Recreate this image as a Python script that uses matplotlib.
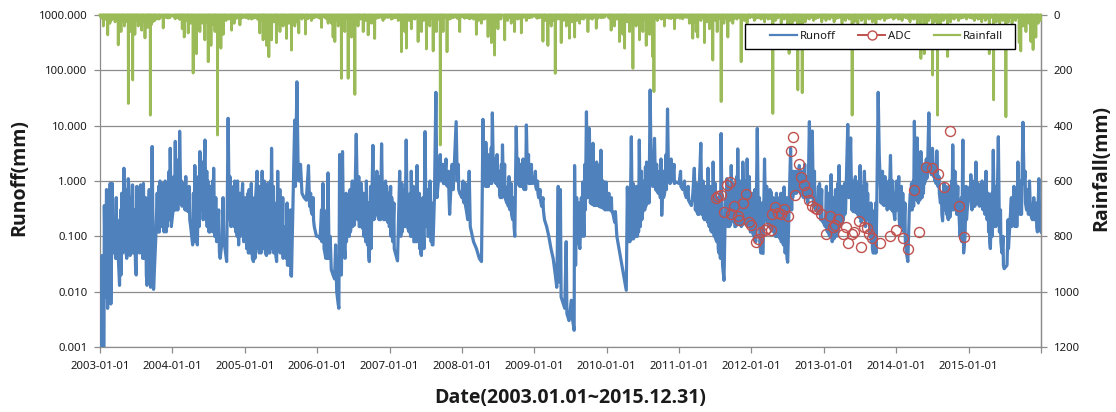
import matplotlib
matplotlib.use('Agg')
import matplotlib.pyplot as plt
import matplotlib.patches as mpatches
import numpy as np
import pandas as pd
from matplotlib.lines import Line2D
from matplotlib.ticker import FixedLocator, FuncFormatter, NullLocator

# ---------------- data ----------------
# Runoff (mm): (decimal year, value)
runoff_2003 = [(2003.000,0.001),(2003.020,0.001),(2003.030,0.045),(2003.040,0.001),(2003.055,0.001),(2003.060,0.36),
    (2003.075,0.008),(2003.090,0.7),(2003.105,0.005),(2003.140,0.9),(2003.150,0.006),(2003.170,0.9),(2003.180,0.05),
    (2003.200,0.15),(2003.215,0.04),(2003.235,0.2),(2003.250,0.05),(2003.270,0.013),(2003.300,0.6),(2003.315,0.05),
    (2003.330,1.7),(2003.345,0.06),(2003.370,0.04),(2003.390,1.1),(2003.400,0.8),(2003.415,0.045),(2003.450,0.85),
    (2003.465,0.05),(2003.500,0.02),(2003.510,0.8),(2003.525,0.06),(2003.560,0.85),(2003.575,0.05),(2003.600,0.9),
    (2003.615,0.04),(2003.650,0.013),(2003.680,0.7),(2003.690,0.03),(2003.700,0.012),(2003.720,4.2),(2003.740,0.011),
    (2003.770,0.09),(2003.790,0.6),(2003.805,0.12),(2003.830,1.0),(2003.845,0.15),(2003.870,0.9),(2003.885,0.12),
    (2003.900,1.0),(2003.915,0.12),(2003.940,0.3),(2003.970,3.9),(2003.985,0.15),
    (2003.120,0.4),(2003.128,0.01),(2003.225,0.5),(2003.230,0.04),(2003.285,0.3),(2003.290,0.02),(2003.355,0.7),
    (2003.360,0.05),(2003.430,0.5),(2003.440,0.05),(2003.480,0.3),(2003.490,0.03),(2003.535,0.5),(2003.545,0.05),
    (2003.585,0.6),(2003.590,0.04),(2003.630,0.5),(2003.640,0.02),(2003.810,0.8),(2003.820,0.12),(2003.925,0.9),
    (2003.930,0.15),(2003.955,1.5),(2003.962,0.2)]
runoff_2004 = [(2004.010,0.3),(2004.040,5.2),(2004.050,0.3),(2004.060,2.4),(2004.075,0.3),(2004.100,7.9),(2004.115,0.6),
    (2004.140,0.4),(2004.160,0.9),(2004.175,0.3),(2004.200,0.6),(2004.215,0.28),(2004.250,0.16),(2004.280,0.07),
    (2004.310,1.9),(2004.325,0.1),(2004.345,0.07),(2004.380,3.4),(2004.395,0.3),(2004.410,2.2),(2004.425,0.2),
    (2004.435,1.0),(2004.450,5.5),(2004.465,0.2),(2004.490,1.0),(2004.505,0.12),(2004.525,0.15),(2004.545,0.4),
    (2004.570,1.7),(2004.585,0.1),(2004.620,0.09),(2004.660,0.04),(2004.690,0.09),(2004.720,0.07),(2004.750,0.035),
    (2004.770,13.6),(2004.785,0.3),(2004.810,0.15),(2004.835,0.4),(2004.860,1.0),(2004.875,0.12),(2004.900,1.0),
    (2004.915,0.07),(2004.950,0.3),(2004.970,0.9),(2004.985,0.08),
    (2004.020,1.2),(2004.030,0.3),(2004.085,1.5),(2004.092,0.4),(2004.125,1.0),(2004.132,0.35),(2004.185,1.2),
    (2004.190,0.3),(2004.230,0.8),(2004.240,0.2),(2004.290,0.6),(2004.300,0.08),(2004.335,0.8),(2004.340,0.08),
    (2004.360,1.2),(2004.370,0.15),(2004.475,1.5),(2004.480,0.15),(2004.515,0.8),(2004.520,0.12),(2004.555,1.0),
    (2004.560,0.12),(2004.600,0.5),(2004.610,0.08),(2004.640,0.3),(2004.650,0.05),(2004.700,0.5),(2004.710,0.07),
    (2004.795,1.2),(2004.800,0.2),(2004.845,0.8),(2004.850,0.15),(2004.890,0.5),(2004.895,0.1),(2004.930,0.6),
    (2004.940,0.1)]
runoff_2005 = [(2005.010,0.5),(2005.030,0.07),(2005.060,0.7),(2005.075,0.05),(2005.090,0.9),(2005.105,0.04),(2005.120,0.035),
    (2005.150,0.5),(2005.170,1.5),(2005.185,0.06),(2005.210,0.5),(2005.225,0.05),(2005.240,1.5),(2005.255,0.06),
    (2005.270,1.0),(2005.285,0.05),(2005.300,0.045),(2005.330,0.6),(2005.345,0.05),(2005.370,3.9),(2005.385,0.1),
    (2005.410,0.4),(2005.425,0.05),(2005.440,0.035),(2005.455,1.5),(2005.470,0.06),(2005.500,0.4),(2005.515,0.05),
    (2005.540,0.15),(2005.570,0.04),(2005.600,0.25),(2005.615,0.03),(2005.645,0.019),(2005.690,12.6),(2005.700,0.8),
    (2005.720,62),(2005.735,2.4),(2005.750,1.0),(2005.770,2.0),(2005.790,0.6),(2005.820,0.5),(2005.850,0.45),
    (2005.880,1.9),(2005.895,0.35),(2005.930,0.25),(2005.960,0.15),(2005.990,0.1),
    (2005.020,0.3),(2005.025,0.06),(2005.045,0.6),(2005.050,0.05),(2005.135,0.5),(2005.140,0.04),(2005.195,0.8),
    (2005.200,0.05),(2005.315,0.9),(2005.320,0.05),(2005.355,1.0),(2005.360,0.06),(2005.395,0.8),(2005.400,0.05),
    (2005.485,0.7),(2005.490,0.05),(2005.525,0.5),(2005.530,0.04),(2005.585,0.4),(2005.590,0.03),(2005.630,0.3),
    (2005.635,0.02),(2005.910,0.6),(2005.915,0.3),(2005.945,0.5),(2005.950,0.2)]
runoff_2006 = [(2006.020,0.1),(2006.040,0.09),(2006.080,0.9),(2006.095,0.06),(2006.120,0.04),(2006.150,1.4),(2006.165,0.04),
    (2006.180,0.1),(2006.195,0.025),(2006.220,0.02),(2006.240,0.017),(2006.255,0.07),(2006.270,0.01),(2006.290,0.006),
    (2006.300,0.005),(2006.310,3.0),(2006.320,0.05),(2006.335,0.02),(2006.350,3.4),(2006.365,0.1),(2006.385,0.04),
    (2006.410,0.13),(2006.430,0.35),(2006.445,0.1),(2006.470,0.16),(2006.500,0.7),(2006.515,0.16),(2006.540,7.0),
    (2006.560,0.2),(2006.590,0.15),(2006.610,0.9),(2006.625,0.14),(2006.650,0.1),(2006.680,1.0),(2006.695,0.07),
    (2006.720,0.035),(2006.770,4.4),(2006.785,0.2),(2006.810,0.25),(2006.840,0.6),(2006.855,0.2),(2006.890,4.7),
    (2006.905,0.25),(2006.930,0.2),(2006.960,0.8),(2006.975,0.18),
    (2006.060,0.3),(2006.065,0.08),(2006.135,0.3),(2006.140,0.04),(2006.400,0.6),(2006.405,0.08),(2006.455,0.7),
    (2006.460,0.12),(2006.485,1.0),(2006.490,0.15),(2006.575,1.2),(2006.580,0.15),(2006.640,0.6),(2006.645,0.1),
    (2006.665,0.5),(2006.670,0.08),(2006.705,0.4),(2006.710,0.05),(2006.740,0.8),(2006.745,0.06),(2006.825,1.5),
    (2006.830,0.25),(2006.870,1.2),(2006.875,0.2),(2006.915,0.9),(2006.920,0.2),(2006.945,1.0),(2006.950,0.2),
    (2006.990,0.6),(2006.995,0.15)]
runoff_2007 = [(2007.000,0.15),(2007.030,0.5),(2007.045,0.08),(2007.080,0.05),(2007.110,0.036),(2007.140,1.5),(2007.155,0.1),
    (2007.190,0.2),(2007.230,5.5),(2007.245,0.15),(2007.270,0.12),(2007.300,1.5),(2007.315,0.1),(2007.350,0.08),
    (2007.380,1.9),(2007.395,0.08),(2007.440,0.045),(2007.460,0.5),(2007.475,0.06),(2007.490,7.8),(2007.505,0.15),
    (2007.540,0.1),(2007.560,1.0),(2007.575,0.08),(2007.600,0.07),(2007.620,0.5),(2007.640,40),(2007.655,0.5),
    (2007.680,1.2),(2007.700,3.0),(2007.715,1.0),(2007.760,0.9),(2007.800,0.8),(2007.830,0.25),(2007.850,0.9),
    (2007.880,0.7),(2007.920,11.8),(2007.935,1.0),(2007.970,0.6),
    (2007.015,0.8),(2007.020,0.1),(2007.060,0.4),(2007.065,0.06),(2007.170,0.9),(2007.175,0.12),(2007.210,0.7),
    (2007.215,0.15),(2007.285,0.6),(2007.290,0.1),(2007.330,0.8),(2007.335,0.08),(2007.365,0.5),(2007.370,0.08),
    (2007.410,0.6),(2007.415,0.06),(2007.425,0.3),(2007.430,0.05),(2007.525,0.7),(2007.530,0.1),(2007.585,0.4),
    (2007.590,0.07),(2007.740,2.0),(2007.745,0.9),(2007.780,2.5),(2007.785,0.85),(2007.815,1.5),(2007.820,0.6),
    (2007.865,2.0),(2007.870,0.7),(2007.950,2.0),(2007.955,0.7)]
runoff_2008 = [(2008.000,0.5),(2008.030,0.4),(2008.060,0.3),(2008.080,0.2),(2008.100,1.5),(2008.115,0.15),(2008.160,0.08),
    (2008.200,0.06),(2008.240,0.04),(2008.270,0.035),(2008.280,0.5),(2008.290,13),(2008.305,1.0),(2008.330,5.0),
    (2008.345,0.8),(2008.380,2.0),(2008.395,0.9),(2008.420,17),(2008.435,1.2),(2008.470,0.9),(2008.500,0.8),
    (2008.530,0.5),(2008.560,4.5),(2008.575,0.6),(2008.620,0.4),(2008.650,1.2),(2008.665,0.3),(2008.700,0.2),
    (2008.730,0.1),(2008.750,9.5),(2008.765,0.9),(2008.800,0.8),(2008.830,0.9),(2008.860,0.7),(2008.890,10.3),
    (2008.905,1.2),(2008.940,0.9),(2008.980,1.0),
    (2008.015,1.0),(2008.020,0.45),(2008.045,0.9),(2008.050,0.35),(2008.320,1.8),(2008.325,0.8),(2008.360,3.0),
    (2008.365,0.8),(2008.405,4.0),(2008.410,0.9),(2008.450,2.5),(2008.455,1.0),(2008.485,3.0),(2008.490,0.85),
    (2008.515,1.5),(2008.520,0.6),(2008.545,2.0),(2008.550,0.5),(2008.590,2.0),(2008.595,0.5),(2008.635,0.8),
    (2008.640,0.35),(2008.680,0.9),(2008.685,0.25),(2008.715,0.5),(2008.720,0.15),(2008.780,2.5),(2008.785,0.85),
    (2008.815,2.0),(2008.820,0.8),(2008.845,2.5),(2008.850,0.75),(2008.875,1.5),(2008.880,0.7),(2008.920,3.0),
    (2008.925,0.9),(2008.960,2.0),(2008.965,0.9)]
runoff_2009 = [(2009.000,0.9),(2009.030,0.7),(2009.060,0.5),(2009.100,0.35),(2009.140,0.2),(2009.170,0.15),(2009.200,0.1),
    (2009.230,0.06),(2009.260,0.04),(2009.290,0.02),(2009.310,0.012),(2009.330,0.8),(2009.340,0.015),(2009.360,0.7),
    (2009.370,0.008),(2009.400,0.006),(2009.420,0.005),(2009.440,0.08),(2009.450,0.004),(2009.480,0.003),
    (2009.510,0.007),(2009.530,0.003),(2009.550,0.002),(2009.556,1.9),(2009.570,0.03),(2009.600,0.1),(2009.630,0.06),
    (2009.670,0.96),(2009.685,0.1),(2009.720,17.8),(2009.735,0.5),(2009.760,8.9),(2009.775,0.4),(2009.810,4.8),
    (2009.825,0.36),(2009.860,2.2),(2009.875,0.36),(2009.920,3.6),(2009.935,0.33),(2009.990,0.96),
    (2009.015,1.5),(2009.020,0.8),(2009.045,1.0),(2009.050,0.6),(2009.080,0.7),(2009.085,0.45),(2009.120,0.5),
    (2009.125,0.3),(2009.585,0.5),(2009.590,0.08),(2009.615,0.4),(2009.620,0.07),(2009.650,0.5),(2009.655,0.1),
    (2009.700,2.0),(2009.705,0.3),(2009.790,2.0),(2009.795,0.38),(2009.840,1.5),(2009.845,0.36),(2009.890,1.2),
    (2009.895,0.35),(2009.905,2.0),(2009.910,0.34),(2009.950,1.0),(2009.955,0.32),(2009.970,0.8),(2009.975,0.3)]
runoff_2010 = [(2010.005,0.3),(2010.050,0.3),(2010.080,0.28),(2010.110,0.18),(2010.120,0.28),(2010.140,0.1),(2010.180,0.05),
    (2010.220,0.025),(2010.250,0.015),(2010.270,0.0106),(2010.285,0.78),(2010.300,0.08),(2010.340,6.3),(2010.355,0.09),
    (2010.380,0.1),(2010.410,0.8),(2010.425,0.1),(2010.450,5.5),(2010.465,0.15),(2010.500,0.3),(2010.550,2.2),
    (2010.565,0.4),(2010.600,44),(2010.615,1.0),(2010.640,0.8),(2010.660,5.9),(2010.675,0.7),(2010.720,0.6),
    (2010.750,2.5),(2010.760,0.24),(2010.800,0.6),(2010.840,20),(2010.855,1.0),(2010.890,2.5),(2010.905,1.0),
    (2010.960,0.96),
    (2010.030,0.6),(2010.035,0.3),(2010.065,0.5),(2010.070,0.28),(2010.315,0.6),(2010.320,0.08),(2010.365,0.9),
    (2010.370,0.09),(2010.395,0.6),(2010.400,0.1),(2010.435,0.8),(2010.440,0.12),(2010.480,1.5),(2010.485,0.2),
    (2010.520,1.0),(2010.525,0.3),(2010.535,1.8),(2010.540,0.35),(2010.580,1.2),(2010.585,0.4),(2010.630,3.0),
    (2010.635,0.8),(2010.690,2.0),(2010.695,0.65),(2010.705,1.5),(2010.710,0.6),(2010.735,1.2),(2010.740,0.5),
    (2010.780,1.5),(2010.785,0.5),(2010.820,3.0),(2010.825,0.7),(2010.870,1.5),(2010.875,0.9),(2010.930,2.0),
    (2010.935,0.9)]
runoff_2011 = [(2011.000,0.9),(2011.050,0.7),(2011.100,0.5),(2011.150,0.4),(2011.170,0.36),(2011.190,0.6),(2011.210,1.7),
    (2011.225,0.3),(2011.260,0.25),(2011.280,0.9),(2011.300,4.8),(2011.315,0.25),(2011.350,0.2),(2011.370,0.8),
    (2011.380,0.2),(2011.400,1.7),(2011.415,0.15),(2011.450,0.12),(2011.470,2.2),(2011.485,0.1),(2011.520,0.08),
    (2011.550,0.05),(2011.580,7.2),(2011.600,0.03),(2011.620,0.016),(2011.640,0.4),(2011.660,1.1),(2011.675,0.15),
    (2011.720,1.9),(2011.735,0.2),(2011.780,0.15),(2011.810,3.8),(2011.825,0.2),(2011.860,0.15),(2011.880,2.2),
    (2011.895,0.18),(2011.940,2.5),(2011.955,0.15),(2011.970,1.2),(2011.985,0.12),
    (2011.020,1.5),(2011.025,0.8),(2011.075,1.0),(2011.080,0.6),(2011.125,0.8),(2011.130,0.45),(2011.240,0.9),
    (2011.245,0.28),(2011.270,0.5),(2011.275,0.25),(2011.330,1.0),(2011.335,0.22),(2011.360,0.6),(2011.365,0.2),
    (2011.390,0.7),(2011.395,0.18),(2011.430,0.8),(2011.435,0.13),(2011.460,0.5),(2011.465,0.12),(2011.500,0.9),
    (2011.505,0.09),(2011.535,0.5),(2011.540,0.06),(2011.565,0.6),(2011.570,0.04),(2011.650,0.5),(2011.655,0.2),
    (2011.690,0.8),(2011.695,0.15),(2011.705,0.5),(2011.710,0.16),(2011.750,0.9),(2011.755,0.18),(2011.765,0.6),
    (2011.770,0.15),(2011.795,1.2),(2011.800,0.16),(2011.840,1.0),(2011.845,0.17),(2011.870,0.8),(2011.875,0.16),
    (2011.910,1.0),(2011.915,0.17),(2011.925,0.7),(2011.930,0.16)]
runoff_2012 = [(2012.030,0.1),(2012.060,0.08),(2012.080,8.9),(2012.095,0.15),(2012.130,0.05),(2012.160,0.049),(2012.180,2.5),
    (2012.195,0.2),(2012.240,0.15),(2012.270,0.64),(2012.285,0.13),(2012.330,0.1),(2012.360,0.5),(2012.375,0.1),
    (2012.420,0.08),(2012.450,0.78),(2012.465,0.05),(2012.500,0.034),(2012.520,0.4),(2012.540,3.9),(2012.555,0.3),
    (2012.580,1.5),(2012.600,0.6),(2012.630,0.7),(2012.660,1.9),(2012.675,0.6),(2012.720,0.5),(2012.750,0.6),
    (2012.780,0.4),(2012.800,11.8),(2012.815,0.5),(2012.840,8.0),(2012.855,0.35),(2012.890,0.3),(2012.910,0.28),
    (2012.940,0.9),(2012.955,0.2),(2012.990,0.18),
    (2012.010,0.6),(2012.015,0.12),(2012.045,0.7),(2012.050,0.09),(2012.110,0.5),(2012.115,0.07),(2012.145,0.4),
    (2012.150,0.05),(2012.210,0.8),(2012.215,0.18),(2012.225,0.5),(2012.230,0.16),(2012.255,0.7),(2012.260,0.14),
    (2012.300,0.5),(2012.305,0.12),(2012.315,0.4),(2012.320,0.11),(2012.345,0.6),(2012.350,0.1),(2012.390,0.4),
    (2012.395,0.09),(2012.405,0.6),(2012.410,0.08),(2012.435,0.5),(2012.440,0.07),(2012.485,0.5),(2012.490,0.04),
    (2012.565,1.2),(2012.570,0.5),(2012.615,1.5),(2012.620,0.6),(2012.645,1.2),(2012.650,0.65),(2012.695,1.5),
    (2012.700,0.55),(2012.735,2.0),(2012.740,0.5),(2012.765,1.2),(2012.770,0.45),(2012.870,1.5),(2012.875,0.32),
    (2012.925,0.8),(2012.930,0.26),(2012.970,0.7),(2012.975,0.19)]
runoff_2013 = [(2013.020,0.15),(2013.050,0.12),(2013.080,0.1),(2013.100,1.3),(2013.115,0.08),(2013.160,0.7),(2013.175,0.1),
    (2013.210,1.9),(2013.225,0.15),(2013.270,0.2),(2013.300,0.3),(2013.330,10.5),(2013.345,0.5),(2013.370,6.0),
    (2013.385,0.3),(2013.420,0.28),(2013.450,0.7),(2013.465,0.25),(2013.500,1.9),(2013.515,0.18),(2013.540,0.3),
    (2013.560,1.5),(2013.575,0.15),(2013.620,0.36),(2013.635,0.1),(2013.680,0.05),(2013.700,0.05),(2013.730,0.3),
    (2013.750,40),(2013.765,2.9),(2013.790,0.4),(2013.830,0.36),(2013.860,0.7),(2013.875,0.3),(2013.920,2.9),
    (2013.935,0.3),(2013.980,0.2),
    (2013.035,0.8),(2013.040,0.13),(2013.065,0.6),(2013.070,0.11),(2013.135,0.5),(2013.140,0.09),(2013.190,0.9),
    (2013.195,0.12),(2013.245,0.8),(2013.250,0.17),(2013.285,0.9),(2013.290,0.25),(2013.400,1.0),(2013.405,0.28),
    (2013.435,1.2),(2013.440,0.27),(2013.480,1.0),(2013.485,0.22),(2013.525,0.8),(2013.530,0.2),(2013.590,0.9),
    (2013.595,0.2),(2013.605,0.6),(2013.610,0.3),(2013.650,0.4),(2013.655,0.08),(2013.665,0.3),(2013.670,0.06),
    (2013.715,0.4),(2013.720,0.05),(2013.810,1.5),(2013.815,0.38),(2013.845,1.2),(2013.850,0.4),(2013.895,1.0),
    (2013.900,0.32),(2013.950,1.0),(2013.955,0.28),(2013.965,0.6),(2013.970,0.25)]
runoff_2014 = [(2014.020,0.5),(2014.050,0.15),(2014.090,0.6),(2014.105,0.12),(2014.140,0.05),(2014.160,0.035),(2014.180,0.3),
    (2014.210,0.9),(2014.220,0.3),(2014.250,12),(2014.265,0.5),(2014.290,6.0),(2014.305,0.4),(2014.340,3.4),
    (2014.355,0.5),(2014.400,1.0),(2014.430,1.2),(2014.450,17),(2014.465,1.5),(2014.500,3.9),(2014.515,1.2),
    (2014.560,3.5),(2014.575,0.8),(2014.610,0.4),(2014.640,0.19),(2014.660,0.9),(2014.675,0.3),(2014.720,0.2),
    (2014.750,0.3),(2014.780,4.5),(2014.795,0.3),(2014.820,0.9),(2014.835,0.25),(2014.860,0.4),(2014.880,0.1),
    (2014.920,5.5),(2014.930,0.05),(2014.950,0.1),(2014.980,0.3),
    (2014.005,1.0),(2014.010,0.3),(2014.035,1.2),(2014.040,0.2),(2014.070,0.8),(2014.075,0.15),(2014.120,0.4),
    (2014.125,0.08),(2014.195,0.6),(2014.200,0.3),(2014.235,1.0),(2014.240,0.35),(2014.280,2.0),(2014.285,0.45),
    (2014.320,1.5),(2014.325,0.45),(2014.370,2.0),(2014.375,0.6),(2014.385,1.5),(2014.390,0.9),(2014.415,2.5),
    (2014.420,1.1),(2014.480,2.5),(2014.485,1.3),(2014.530,2.0),(2014.535,1.0),(2014.545,1.5),(2014.550,0.9),
    (2014.590,1.2),(2014.595,0.6),(2014.625,0.6),(2014.630,0.25),(2014.690,0.8),(2014.695,0.25),(2014.705,0.5),
    (2014.710,0.22),(2014.735,0.8),(2014.740,0.22),(2014.765,1.0),(2014.770,0.3),(2014.810,1.5),(2014.815,0.4),
    (2014.850,0.8),(2014.855,0.3),(2014.900,0.5),(2014.905,0.08),(2014.965,0.8),(2014.970,0.2)]
runoff_2015 = [(2015.010,0.6),(2015.030,1.3),(2015.045,0.3),(2015.100,2.2),(2015.115,0.4),(2015.150,0.35),(2015.170,0.4),
    (2015.200,0.3),(2015.240,1.5),(2015.255,0.2),(2015.300,0.06),(2015.340,3.6),(2015.355,0.15),(2015.390,0.2),
    (2015.410,6.3),(2015.425,0.12),(2015.460,0.05),(2015.490,0.026),(2015.530,0.03),(2015.560,0.1),(2015.610,0.2),
    (2015.640,0.15),(2015.680,2.2),(2015.695,0.3),(2015.710,0.25),(2015.750,11.5),(2015.765,0.9),(2015.800,0.3),
    (2015.840,1.0),(2015.855,0.25),(2015.880,0.2),(2015.920,0.2),(2015.950,0.12),(2015.970,1.1),(2015.985,0.13),
    (2016.000,0.12),
    (2015.020,0.8),(2015.025,0.5),(2015.060,0.8),(2015.065,0.35),(2015.080,1.0),(2015.085,0.35),(2015.130,0.9),
    (2015.135,0.38),(2015.185,1.0),(2015.190,0.33),(2015.220,0.8),(2015.225,0.25),(2015.270,0.6),(2015.275,0.12),
    (2015.285,0.4),(2015.290,0.08),(2015.320,0.6),(2015.325,0.1),(2015.370,0.8),(2015.375,0.15),(2015.440,0.3),
    (2015.445,0.08),(2015.475,0.1),(2015.480,0.03),(2015.545,0.2),(2015.550,0.06),(2015.590,0.5),(2015.595,0.15),
    (2015.625,0.8),(2015.630,0.18),(2015.660,0.6),(2015.665,0.15),(2015.725,1.0),(2015.730,0.25),(2015.780,1.5),
    (2015.785,0.4),(2015.820,0.7),(2015.825,0.25),(2015.900,0.5),(2015.905,0.2),(2015.935,0.4),(2015.940,0.15)]

# ADC (mm)
adc_year = [2011.51,2011.54,2011.58,2011.62,2011.66,2011.70,2011.72,2011.76,2011.81,2011.83,2011.88,2011.93,2011.96,
            2012.00,2012.06,2012.09,2012.13,2012.18,2012.22,2012.27,2012.29,2012.33,2012.36,2012.41,2012.45,2012.50,
            2012.54,2012.57,2012.60,2012.65,2012.68,2012.72,2012.76,2012.79,2012.84,2012.88,2012.91,2012.96,
            2013.03,2013.08,2013.12,2013.16,2013.20,2013.26,2013.31,2013.34,2013.39,2013.42,2013.48,2013.51,2013.56,
            2013.60,2013.63,2013.66,2013.77,2013.91,2014.00,2014.09,2014.16,2014.24,2014.31,2014.41,2014.49,2014.58,
            2014.66,2014.74,2014.86,2014.93]
adc_value = [0.50,0.53,0.57,0.27,0.83,0.95,0.25,0.36,0.23,0.20,0.40,0.58,0.18,
             0.16,0.08,0.09,0.12,0.13,0.14,0.13,0.25,0.34,0.26,0.25,0.31,0.23,
             3.5,6.2,0.57,2.0,1.2,0.85,0.62,0.46,0.35,0.32,0.31,0.25,
             0.11,0.23,0.15,0.16,0.21,0.11,0.15,0.075,0.11,0.12,0.19,0.065,0.15,
             0.14,0.11,0.095,0.077,0.10,0.13,0.095,0.060,0.69,0.12,1.8,1.75,1.36,
             0.78,8.1,0.36,0.097]

# Rainfall (mm): (decimal year, daily rainfall); all other days are dry
rain_2003 = [(2003.01,8),(2003.046,40),(2003.08,12),(2003.106,72),(2003.138,30),(2003.17,15),(2003.19,10),(2003.207,25),
    (2003.253,108),(2003.29,60),(2003.31,18),(2003.336,40),(2003.36,22),(2003.391,320),(2003.41,15),(2003.423,60),
    (2003.451,235),(2003.47,30),(2003.483,70),(2003.50,20),(2003.529,40),(2003.55,25),(2003.575,55),(2003.60,18),
    (2003.621,83),(2003.64,30),(2003.658,45),(2003.68,20),(2003.695,362),(2003.71,35),(2003.73,25),(2003.759,20),
    (2003.78,12),(2003.805,15),(2003.84,8),(2003.874,47),(2003.92,10),(2003.966,10),
    (2003.03,12),(2003.06,6),(2003.09,18),(2003.12,8),(2003.15,20),(2003.22,14),(2003.24,9),(2003.27,16),
    (2003.32,11),(2003.38,24),(2003.44,13),(2003.52,17),(2003.59,22),(2003.67,12),(2003.75,9),(2003.82,14),
    (2003.90,7),(2003.94,11)]
rain_2004 = [(2004.02,8),(2004.08,10),(2004.136,50),(2004.164,80),(2004.19,20),(2004.219,65),(2004.25,30),(2004.288,210),
    (2004.311,125),(2004.334,140),(2004.36,25),(2004.38,60),(2004.42,30),(2004.449,90),(2004.47,25),(2004.495,169),
    (2004.532,110),(2004.56,35),(2004.587,60),(2004.624,434),(2004.645,30),(2004.67,120),(2004.702,70),(2004.74,20),
    (2004.78,15),(2004.817,55),(2004.854,30),(2004.89,12),(2004.932,36),(2004.97,10),
    (2004.04,14),(2004.06,7),(2004.10,16),(2004.12,9),(2004.15,22),(2004.21,12),(2004.27,18),(2004.40,14),
    (2004.51,20),(2004.60,16),(2004.72,11),(2004.80,9),(2004.84,13),(2004.91,8),(2004.95,12)]
rain_2005 = [(2005.03,8),(2005.093,15),(2005.15,10),(2005.208,65),(2005.23,20),(2005.254,90),(2005.28,30),(2005.30,110),
    (2005.333,151),(2005.37,90),(2005.40,25),(2005.438,100),(2005.46,30),(2005.485,60),(2005.51,20),(2005.53,40),
    (2005.576,85),(2005.61,30),(2005.645,127),(2005.67,20),(2005.691,40),(2005.72,25),(2005.746,65),(2005.79,15),
    (2005.838,69),(2005.88,12),(2005.92,20),(2005.97,8),
    (2005.01,10),(2005.05,14),(2005.07,6),(2005.12,12),(2005.18,16),(2005.26,12),(2005.35,18),(2005.42,14),
    (2005.55,16),(2005.63,12),(2005.77,10),(2005.81,8),(2005.86,14),(2005.95,11),(2005.99,7)]
rain_2006 = [(2006.02,10),(2006.06,45),(2006.11,10),(2006.152,30),(2006.198,30),(2006.221,80),(2006.244,96),(2006.27,20),
    (2006.29,40),(2006.336,229),(2006.36,30),(2006.382,60),(2006.428,229),(2006.45,25),(2006.474,80),(2006.52,287),
    (2006.545,20),(2006.566,40),(2006.60,15),(2006.635,60),(2006.67,20),(2006.704,72),(2006.75,30),(2006.796,85),
    (2006.85,10),(2006.911,20),(2006.96,8),
    (2006.04,12),(2006.08,7),(2006.13,14),(2006.17,9),(2006.31,16),(2006.40,12),(2006.50,14),(2006.58,11),
    (2006.65,13),(2006.73,9),(2006.82,12),(2006.88,8),(2006.93,13),(2006.98,9)]
rain_2007 = [(2007.026,15),(2007.08,10),(2007.12,20),(2007.164,133),(2007.19,25),(2007.21,60),(2007.233,120),(2007.27,20),
    (2007.302,50),(2007.35,15),(2007.394,96),(2007.42,25),(2007.44,60),(2007.47,20),(2007.509,123),(2007.53,30),
    (2007.555,40),(2007.601,130),(2007.625,25),(2007.647,60),(2007.702,470),(2007.72,30),(2007.739,60),(2007.794,133),
    (2007.83,15),(2007.88,10),(2007.969,60),
    (2007.01,8),(2007.05,12),(2007.10,9),(2007.14,14),(2007.25,11),(2007.32,13),(2007.37,9),(2007.49,14),
    (2007.58,12),(2007.68,15),(2007.76,10),(2007.85,12),(2007.91,8),(2007.94,13),(2007.99,7)]
rain_2008 = [(2008.02,8),(2008.061,10),(2008.12,12),(2008.16,15),(2008.199,70),(2008.23,20),(2008.268,30),(2008.31,15),
    (2008.36,78),(2008.38,30),(2008.406,100),(2008.43,35),(2008.452,145),(2008.475,20),(2008.498,50),(2008.54,15),
    (2008.59,90),(2008.63,20),(2008.682,30),(2008.728,60),(2008.77,15),(2008.82,65),(2008.889,20),(2008.94,10),
    (2008.04,12),(2008.08,7),(2008.10,14),(2008.14,9),(2008.18,12),(2008.25,10),(2008.29,14),(2008.33,11),
    (2008.52,13),(2008.61,12),(2008.66,9),(2008.70,14),(2008.75,10),(2008.79,12),(2008.85,9),(2008.91,11),(2008.97,8)]
rain_2009 = [(2009.02,8),(2009.07,10),(2009.119,95),(2009.15,20),(2009.188,110),(2009.21,25),(2009.234,40),(2009.26,20),
    (2009.289,211),(2009.32,15),(2009.372,100),(2009.40,20),(2009.441,40),(2009.487,84),(2009.52,25),(2009.556,80),
    (2009.59,20),(2009.625,30),(2009.68,15),(2009.74,60),(2009.80,15),(2009.855,48),(2009.92,10),(2009.97,8),
    (2009.04,12),(2009.09,7),(2009.14,13),(2009.31,11),(2009.35,14),(2009.42,9),(2009.46,12),(2009.58,10),
    (2009.65,13),(2009.71,9),(2009.77,12),(2009.83,8),(2009.88,12),(2009.95,9)]
rain_2010 = [(2010.02,8),(2010.062,55),(2010.108,40),(2010.14,15),(2010.177,96),(2010.20,30),(2010.223,70),(2010.246,120),
    (2010.28,25),(2010.315,60),(2010.361,193),(2010.385,20),(2010.407,40),(2010.453,90),(2010.475,25),(2010.499,60),
    (2010.545,110),(2010.57,30),(2010.591,70),(2010.637,151),(2010.651,277),(2010.70,20),(2010.75,15),(2010.798,40),
    (2010.86,12),(2010.936,50),(2010.98,8),
    (2010.04,12),(2010.08,9),(2010.16,13),(2010.26,11),(2010.34,12),(2010.43,10),(2010.52,14),(2010.61,11),
    (2010.68,13),(2010.72,9),(2010.77,12),(2010.83,10),(2010.89,13),(2010.91,8),(2010.96,11)]
rain_2011 = [(2011.03,10),(2011.08,8),(2011.143,30),(2011.19,84),(2011.21,25),(2011.235,60),(2011.258,80),(2011.30,20),
    (2011.351,100),(2011.38,25),(2011.42,50),(2011.465,163),(2011.50,20),(2011.525,60),(2011.581,313),(2011.62,30),
    (2011.673,80),(2011.70,20),(2011.742,30),(2011.80,15),(2011.857,169),(2011.90,20),(2011.94,30),(2011.98,10),
    (2011.01,12),(2011.05,14),(2011.11,9),(2011.17,13),(2011.28,12),(2011.33,9),(2011.45,12),(2011.55,14),
    (2011.60,10),(2011.65,13),(2011.72,11),(2011.77,12),(2011.83,9),(2011.88,12),(2011.96,8)]
rain_2012 = [(2012.041,20),(2012.09,10),(2012.13,15),(2012.179,25),(2012.23,15),(2012.294,356),(2012.33,20),(2012.37,10),
    (2012.409,30),(2012.45,15),(2012.501,60),(2012.52,139),(2012.56,30),(2012.60,20),(2012.64,271),(2012.67,40),
    (2012.70,281),(2012.74,25),(2012.80,15),(2012.86,20),(2012.92,10),(2012.97,25),
    (2012.02,9),(2012.06,13),(2012.11,8),(2012.16,12),(2012.20,9),(2012.26,13),(2012.31,10),(2012.35,12),
    (2012.43,9),(2012.48,12),(2012.58,11),(2012.62,13),(2012.77,12),(2012.83,9),(2012.89,13),(2012.95,8),(2012.99,11)]
rain_2013 = [(2013.03,20),(2013.08,15),(2013.14,25),(2013.20,10),(2013.25,30),(2013.30,20),(2013.35,15),(2013.389,362),
    (2013.42,25),(2013.47,30),(2013.52,20),(2013.57,35),(2013.62,15),(2013.67,25),(2013.72,30),(2013.78,15),
    (2013.84,20),(2013.90,10),(2013.96,15),
    (2013.01,9),(2013.05,12),(2013.11,8),(2013.17,13),(2013.23,9),(2013.28,12),(2013.33,9),(2013.44,12),
    (2013.50,10),(2013.55,13),(2013.60,9),(2013.65,12),(2013.70,9),(2013.75,13),(2013.81,9),(2013.87,12),(2013.93,8),
    (2013.98,11)]
rain_2014 = [(2014.03,15),(2014.08,20),(2014.13,10),(2014.19,25),(2014.24,15),(2014.29,30),(2014.341,157),(2014.387,140),
    (2014.42,30),(2014.45,20),(2014.502,217),(2014.53,25),(2014.571,362),(2014.61,30),(2014.65,20),(2014.709,150),
    (2014.75,25),(2014.80,15),(2014.86,20),(2014.92,10),(2014.97,15),
    (2014.01,9),(2014.05,12),(2014.10,8),(2014.16,13),(2014.21,9),(2014.26,12),(2014.31,10),(2014.36,12),
    (2014.47,9),(2014.55,13),(2014.63,10),(2014.68,12),(2014.73,9),(2014.77,12),(2014.83,9),(2014.89,12),(2014.95,8)]
rain_2015 = [(2015.03,10),(2015.08,20),(2015.13,15),(2015.18,25),(2015.23,20),(2015.284,140),(2015.344,307),(2015.38,25),
    (2015.43,30),(2015.47,20),(2015.514,368),(2015.55,25),(2015.60,30),(2015.65,20),(2015.698,100),(2015.72,130),
    (2015.75,40),(2015.79,60),(2015.83,30),(2015.859,96),(2015.89,125),(2015.929,80),(2015.96,30),(2015.99,20),
    (2015.01,9),(2015.05,12),(2015.10,8),(2015.15,13),(2015.20,9),(2015.26,12),(2015.31,9),(2015.36,12),
    (2015.40,9),(2015.45,12),(2015.49,9),(2015.53,12),(2015.57,9),(2015.62,12),(2015.67,9),(2015.81,12),(2015.87,9),
    (2015.94,12)]

year_ticks = list(range(2003, 2017))
left_ticks = [0.001, 0.01, 0.1, 1, 10, 100, 1000]
right_ticks = [0, 200, 400, 600, 800, 1000, 1200]

# ---------------- helpers ----------------
START = pd.Timestamp('2003-01-01')

def to_dates(years):
    return START + pd.to_timedelta((np.asarray(years, dtype=float) - 2003.0) * 365.25, unit='D')

runoff_all = sorted(runoff_2003 + runoff_2004 + runoff_2005 + runoff_2006 + runoff_2007 + runoff_2008 + runoff_2009 +
                    runoff_2010 + runoff_2011 + runoff_2012 + runoff_2013 + runoff_2014 + runoff_2015,
                    key=lambda p: p[0])
r_t, r_v = zip(*runoff_all)
r_dates = to_dates(r_t)

rain_all = (rain_2003 + rain_2004 + rain_2005 + rain_2006 + rain_2007 + rain_2008 + rain_2009 +
            rain_2010 + rain_2011 + rain_2012 + rain_2013 + rain_2014 + rain_2015)
days = pd.date_range('2003-01-01', '2015-12-31', freq='D')
rain_daily = np.zeros(len(days))
for t, mm in rain_all:
    i = int(round((t - 2003.0) * 365.25))
    i = min(max(i, 0), len(days) - 1)
    rain_daily[i] = max(rain_daily[i], mm)

adc_dates = to_dates(adc_year)

# ---------------- figure ----------------
plt.rcParams['font.family'] = ['Noto Sans', 'DejaVu Sans']
BOLD_FAMILY = ['Open Sans', 'DejaVu Sans']
BLUE = '#4F81BD'
RED = '#C0504D'
GREEN = '#9BBB59'
GRID = '#8C8C8C'
TXT = '#1a1a1a'

fig = plt.figure(figsize=(11.16, 4.12), dpi=100)
ax = fig.add_axes([100/1116, 1 - 347/412, 941/1116, 332/412])

ax.set_yscale('log')
ax.set_ylim(0.001, 1000)
ax.set_xlim(pd.Timestamp('2003-01-01'), pd.Timestamp('2016-01-01'))
ax.yaxis.set_major_locator(FixedLocator(left_ticks))
ax.yaxis.set_minor_locator(NullLocator())
ax.yaxis.set_major_formatter(FuncFormatter(lambda v, p: f'{v:.3f}'))
ax.grid(axis='y', color=GRID, lw=0.9)
ax.set_axisbelow(True)

ax.plot(r_dates, r_v, color=BLUE, lw=2.3, zorder=3)
ax.plot(adc_dates, adc_value, linestyle='none', marker='o', mfc='none', mec=RED, ms=7.2, mew=1.0, zorder=4)

xt = [pd.Timestamp(f'{y}-01-01') for y in year_ticks]
ax.set_xticks(xt)
ax.set_xticklabels([f'{y}-01-01' if y < 2016 else '' for y in year_ticks])

ax.spines['top'].set_visible(False)
for s in ['left', 'bottom', 'right']:
    ax.spines[s].set_color(GRID)
    ax.spines[s].set_linewidth(0.9)
ax.tick_params(axis='both', which='major', length=4, width=0.9, color=GRID, labelsize=8.2, labelcolor=TXT)
ax.tick_params(axis='y', pad=5)
ax.tick_params(axis='x', pad=6)

ax2 = ax.twinx()
ax2.set_ylim(1200, 0)
ax2.set_yticks(right_ticks)
ax2.plot(days, rain_daily, color=GREEN, lw=2.0, clip_on=False, zorder=3)
for s in ['top', 'left', 'bottom']:
    ax2.spines[s].set_visible(False)
ax2.spines['right'].set_color(GRID)
ax2.spines['right'].set_linewidth(0.9)
ax2.tick_params(axis='y', length=4, width=0.9, color=GRID, labelsize=8.2, labelcolor=TXT, pad=5)

# legend box (drawn on figure level, above the axes)
box = mpatches.Rectangle((745/1116, 1 - 49/412), 270/1116, 25/412, transform=fig.transFigure,
                         facecolor='white', edgecolor='black', lw=1.0, zorder=2)
fig.patches.append(box)
handles = [Line2D([], [], color=BLUE, lw=1.6),
           Line2D([], [], color=RED, lw=1.4, marker='o', mfc='white', mec=RED, ms=6.5, mew=1.0),
           Line2D([], [], color=GREEN, lw=1.6)]
leg = fig.legend(handles, ['Runoff', 'ADC', 'Rainfall'], ncol=3, loc='center left',
                 bbox_to_anchor=(770/1116, 1 - 36.5/412), frameon=False, fontsize=8.2,
                 handlelength=2.35, columnspacing=2.0, borderpad=0, borderaxespad=0, handletextpad=0.25)
leg.set_zorder(5)
for t in leg.get_texts():
    t.set_color(TXT)

fig.text(19/1116, 1 - 178/412, 'Runoff(mm)', rotation=90, ha='center', va='center',
         fontsize=14, fontweight='bold', family=BOLD_FAMILY, color=TXT)
fig.text(1101/1116, 1 - 168/412, 'Rainfall(mm)', rotation=90, ha='center', va='center',
         fontsize=14, fontweight='bold', family=BOLD_FAMILY, color=TXT)
fig.text(570/1116, 1 - 398/412, 'Date(2003.01.01~2015.12.31)', ha='center', va='center',
         fontsize=14, fontweight='bold', family=BOLD_FAMILY, color=TXT)

fig.savefig('out.png', dpi=100)
